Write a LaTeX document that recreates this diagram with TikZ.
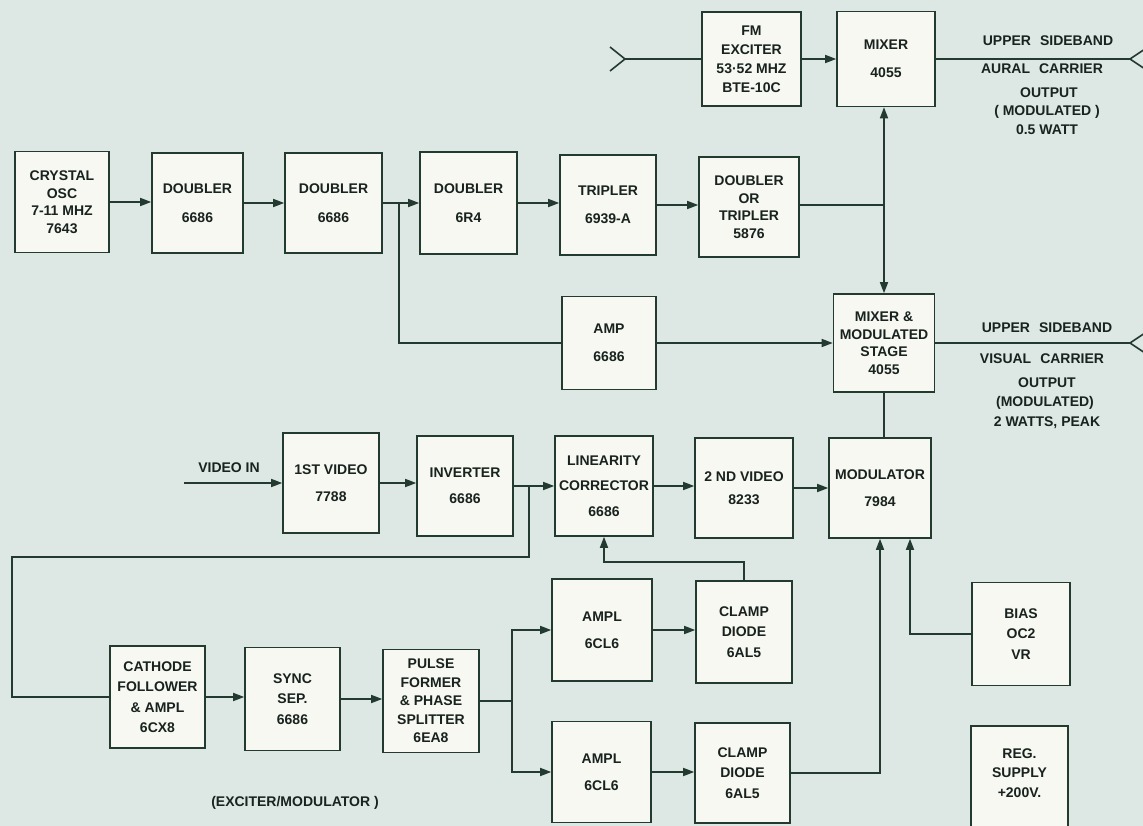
\documentclass[tikz,border=0pt]{standalone}
\usepackage{fontspec}
\setmainfont{Liberation Sans}
\usetikzlibrary{arrows.meta}
\definecolor{bgc}{RGB}{221,231,228}
\definecolor{bxf}{RGB}{247,248,242}
\definecolor{lnc}{RGB}{34,58,48}
\definecolor{txc}{RGB}{24,34,30}
\tikzset{
  bx/.style={draw=lnc, fill=bxf, line width=1.6pt, inner sep=0pt, align=center,
    text=txc, font=\bfseries\fontsize{14}{17.5}\selectfont},
  wire/.style={draw=lnc, line width=1.6pt},
  arr/.style={wire, -{Triangle[length=11pt,width=8pt]}},
  lbl/.style={text=txc, font=\bfseries\fontsize{14}{16}\selectfont, inner sep=0pt}
}
\newcommand{\gap}{\hspace{9pt}}
\begin{document}
\begin{tikzpicture}[x=1pt,y=-1pt]
\useasboundingbox (0,0) rectangle (1143,826);
\clip (0,0) rectangle (1143,826);
\fill[bgc] (0,0) rectangle (1143,826);

% top row
\node[bx, minimum width=94pt, minimum height=101pt] (crystal) at (62,202) {CRYSTAL\\OSC\\7-11 MHZ\\7643};
\node[bx, minimum width=91pt, minimum height=100pt] (dbl1) at (197.5,203) {DOUBLER\\[11pt]6686};
\node[bx, minimum width=97pt, minimum height=100pt] (dbl2) at (333.5,203) {DOUBLER\\[11pt]6686};
\node[bx, minimum width=97pt, minimum height=102pt] (dbl3) at (468.5,203) {DOUBLER\\[11pt]6R4};
\node[bx, minimum width=96pt, minimum height=100pt] (trip) at (608,205) {TRIPLER\\[11pt]6939-A};
\node[bx, minimum width=100pt, minimum height=100pt] (dort) at (749,207) {DOUBLER\\OR\\TRIPLER\\5876};
\node[bx, minimum width=99pt, minimum height=94pt] (fmex) at (751.5,59) {FM\\[1.5pt]EXCITER\\[1.5pt]53·52 MHZ\\[1.5pt]BTE-10C};
\node[bx, minimum width=98pt, minimum height=95pt] (mix) at (886,59) {MIXER\\[11pt]4055};
\node[bx, minimum width=94pt, minimum height=93pt] (amp) at (609,343) {AMP\\[11pt]6686};
\node[bx, minimum width=101pt, minimum height=98pt] (mixmod) at (884,343) {MIXER \&\\MODULATED\\STAGE\\4055};

% video row
\node[bx, minimum width=96pt, minimum height=100pt] (v1) at (331,483) {1ST VIDEO\\[9pt]7788};
\node[bx, minimum width=96pt, minimum height=100pt] (inv) at (465,486) {INVERTER\\[9pt]6686};
\node[bx, minimum width=98pt, minimum height=100pt] (lin) at (604,486) {LINEARITY\\[8pt]CORRECTOR\\[8pt]6686};
\node[bx, minimum width=98pt, minimum height=100pt] (v2) at (744,488) {2 ND VIDEO\\[6pt]8233};
\node[bx, minimum width=102pt, minimum height=100pt] (mod) at (880,488) {MODULATOR\\[9pt]7984};

% lower rows
\node[bx, minimum width=95pt, minimum height=102pt] (cf) at (157.5,697) {CATHODE\\[3pt]FOLLOWER\\[3pt]\& AMPL\\[3pt]6CX8};
\node[bx, minimum width=95pt, minimum height=103pt] (sync) at (292.5,699) {SYNC\\[3pt]SEP.\\[3pt]6686};
\node[bx, minimum width=96pt, minimum height=103pt] (pulse) at (431,701) {PULSE\\[1pt]FORMER\\[1pt]\& PHASE\\[1pt]SPLITTER\\[1pt]6EA8};
\node[bx, minimum width=100pt, minimum height=102pt] (ampl1) at (602,630) {AMPL\\[9pt]6CL6};
\node[bx, minimum width=99pt, minimum height=101pt] (ampl2) at (601.5,772) {AMPL\\[9pt]6CL6};
\node[bx, minimum width=96pt, minimum height=102pt] (clamp1) at (744,632) {CLAMP\\[3pt]DIODE\\[3pt]6AL5};
\node[bx, minimum width=95pt, minimum height=100pt] (clamp2) at (742.5,773) {CLAMP\\[3pt]DIODE\\[3pt]6AL5};
\node[bx, minimum width=98pt, minimum height=103pt] (bias) at (1021,634) {BIAS\\[3pt]OC2\\[3pt]VR};
\node[bx, minimum width=97pt, minimum height=110pt] (reg) at (1019.5,781) {};
\node[lbl, align=center, font=\bfseries\fontsize{14}{17.5}\selectfont] (regtxt) at (1019.5,773) {REG.\\[2pt]SUPPLY\\[2pt]+200V.};

% top chain
\draw[arr] (crystal.east) -- (crystal.east -| dbl1.west);
\draw[arr] (dbl1.east) -- (dbl1.east -| dbl2.west);
\draw[arr] (dbl2.east) -- (dbl2.east -| dbl3.west);
\draw[arr] (dbl3.east) -- (dbl3.east -| trip.west);
\draw[arr] (trip.east) -- (trip.east -| dort.west);
\coordinate (j1) at (399,203);
\draw[wire] (j1) |- (amp.west);
\draw[arr] (amp.east) -- (amp.east -| mixmod.west);
\coordinate (j2) at (mixmod.north |- trip.east);
\draw[wire] (dort.east |- trip.east) -- (j2);
\draw[arr] (j2) -- (mixmod.north);
\draw[arr] (j2) -- (j2 |- mix.south);
\draw[arr] (fmex.east) -- (fmex.east -| mix.west);

% FM input
\coordinate (fin) at (625,59);
\coordinate (fa) at (610,47);
\coordinate (fb) at (610,71);
\draw[wire] (fin) -- (fmex.west);
\draw[wire] (fa) -- (fin) -- (fb);

% outputs
\coordinate (o1) at (1130,59);
\draw[wire] (mix.east) -- (o1);
\draw[wire] (1148,47) -- (o1) -- (1148,71);
\coordinate (o2) at (1130,343);
\draw[wire] (mixmod.east) -- (o2);
\draw[wire] (1148,331) -- (o2) -- (1148,355);

\node[lbl] (us1) at (1048,41) {UPPER\gap SIDEBAND};
\node[lbl] (ac1) at (1042,69) {AURAL\gap CARRIER};
\node[lbl] (op1) at (1049,93) {OUTPUT};
\node[lbl] (md1) at (1047,112) {( MODULATED )};
\node[lbl] (wt1) at (1047,130) {0.5 WATT};
\node[lbl] (us2) at (1047,328) {UPPER\gap SIDEBAND};
\node[lbl] (vc2) at (1042,359) {VISUAL\gap CARRIER};
\node[lbl] (op2) at (1047,383) {OUTPUT};
\node[lbl] (md2) at (1045,403) {(MODULATED)};
\node[lbl] (wt2) at (1047,423) {2 WATTS, PEAK};

% modulator link
\draw[wire] (mixmod.south) -- (mixmod.south |- mod.north);

% video chain
\coordinate (vin) at (184,483);
\node[lbl] (vinl) at (229,468) {VIDEO\ IN};
\draw[arr] (vin) -- (v1.west);
\draw[arr] (v1.east) -- (v1.east -| inv.west);
\draw[arr] (inv.east) -- (inv.east -| lin.west);
\draw[arr] (lin.east) -- (lin.east -| v2.west);
\draw[arr] (v2.east) -- (v2.east -| mod.west);
\coordinate (j3) at (529,486);
\coordinate (k1) at (12,557);
\draw[wire] (j3) |- (k1) |- (cf.west);

% clamp feedback to linearity corrector
\coordinate (k2) at (744,562);
\draw[arr] (clamp1.north) -- (k2) -| (lin.south);

% sync chain
\draw[arr] (cf.east) -- (cf.east -| sync.west);
\draw[arr] (sync.east) -- (sync.east -| pulse.west);
\coordinate (j4) at (512,701);
\draw[wire] (pulse.east) -- (j4);
\draw[arr] (j4) |- (ampl1.west);
\draw[arr] (j4) |- (ampl2.west);
\draw[arr] (ampl1.east) -- (ampl1.east -| clamp1.west);
\draw[arr] (ampl2.east) -- (ampl2.east -| clamp2.west);
\draw[arr] (clamp2.east) -| (mod.south);
\draw[arr] (bias.west) -| ([xshift=30pt]mod.south);

\node[lbl] (title) at (295,803) {(EXCITER/MODULATOR )};
\end{tikzpicture}
\end{document}
